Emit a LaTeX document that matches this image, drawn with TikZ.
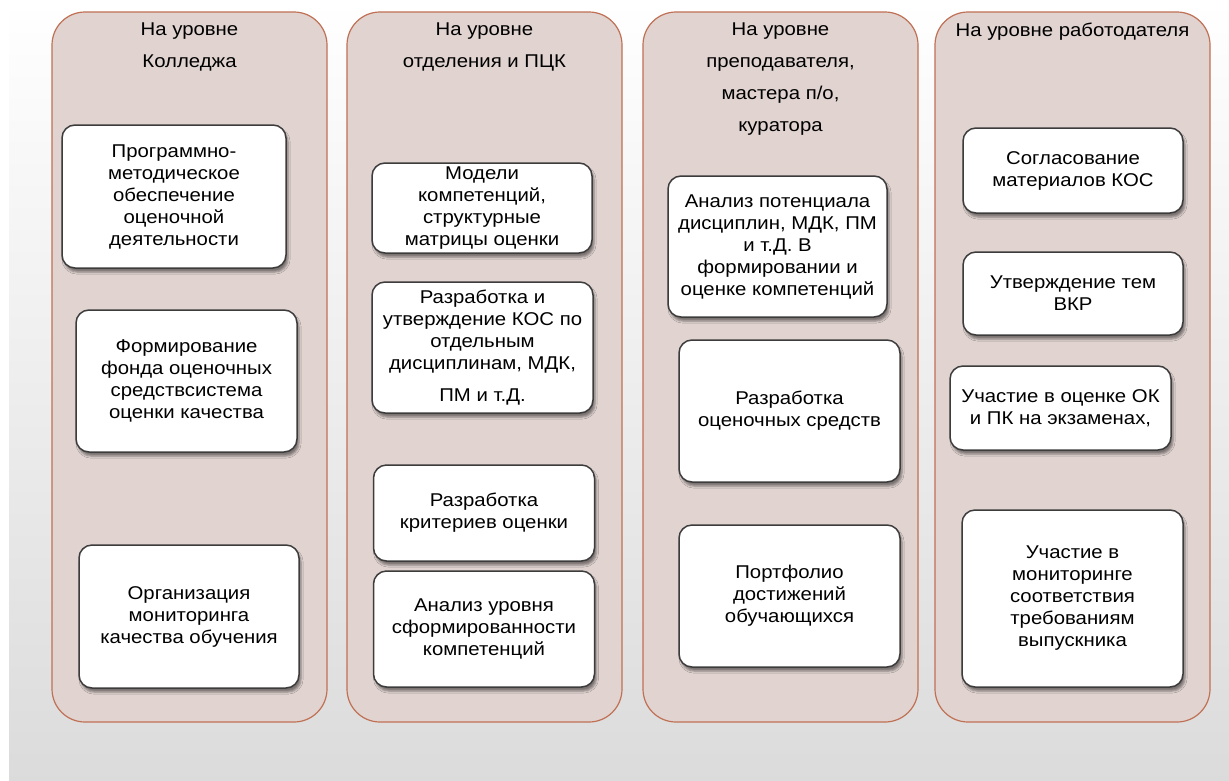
\documentclass[tikz,border=0pt]{standalone}
\usepackage{fontspec}
\setmainfont{Liberation Sans}[FakeStretch=1.1]
\usepackage{xcolor}
\usetikzlibrary{positioning}
\usetikzlibrary{shadows.blur}
\definecolor{colfill}{RGB}{224,211,208}
\definecolor{colline}{RGB}{192,112,84}
\definecolor{boxline}{RGB}{60,60,60}
\tikzset{
  levelcol/.style={draw=colline, line width=1.2pt, fill=colfill,
    rounded corners=33pt, minimum width=275pt, minimum height=710pt},
  head/.style={align=center, inner sep=0pt,
    font={\fontsize{18.5}{32}\selectfont}},
  taskbox/.style={draw=boxline, line width=1.5pt, fill=white,
    rounded corners=13pt, align=center, inner sep=0pt,
    font={\fontsize{18.5}{22}\selectfont},
    blur shadow={shadow xshift=2pt, shadow yshift=-4pt, shadow opacity=45}}
}

\begin{document}
\begin{tikzpicture}[x=1pt, y=-1pt]
\useasboundingbox (0,0) rectangle (1229,780);
% background
\fill[white] (0,0) rectangle (1229,780);
\shade[top color=white, bottom color=gray!28] (9,0) rectangle (1229,780);

% Columns
\node[levelcol] (college) at (189.5,367) {};
\node[levelcol] (dept) at (484.5,367) {};
\node[levelcol] (teacher) at (780.5,367) {};
\node[levelcol] (employer) at (1072.5,367) {};

\node[head, below=11pt of college.north] (collegehead) {На уровне\\Колледжа};
\node[head, below=11pt of dept.north] (depthead) {На уровне\\отделения и ПЦК};
\node[head, below=11pt of teacher.north] (teacherhead)
    {На уровне\\преподавателя,\\мастера п/о,\\куратора};
\node[head, below=11pt of employer.north] (employerhead) {На уровне работодателя};

% College level
\node[taskbox,
    minimum width=224pt,
    minimum height=143pt
    ] (progmet) at (174,196.5)
    {Программно-\\методическое\\обеспечение\\оценочной\\деятельности};
\node[taskbox,
    minimum width=221pt,
    minimum height=142pt
    ] (fund) at (186.5,381)
    {Формирование\\фонда оценочных\\средствсистема\\оценки качества};
\node[taskbox,
    minimum width=220pt,
    minimum height=143pt
    ] (monitor) at (189,616.5)
    {Организация\\мониторинга\\качества обучения};

% Department level
\node[taskbox,
    minimum width=220pt,
    minimum height=90pt
    ] (models) at (482,208)
    {Модели\\компетенций,\\структурные\\матрицы оценки};
\node[taskbox,
    minimum width=221pt,
    minimum height=131pt
    ] (kos) at (482.5,347.5)
    {Разработка и\\утверждение КОС по\\отдельным\\дисциплинам, МДК,\\[10pt]ПМ и т.Д.};
\node[taskbox,
    minimum width=221pt,
    minimum height=96pt
    ] (criteria) at (484,513)
    {Разработка\\критериев оценки};
\node[taskbox,
    minimum width=221pt,
    minimum height=116pt
    ] (analysis) at (484,629)
    {Анализ уровня\\сформированности\\компетенций};

% Teacher level
\node[taskbox,
    minimum width=219pt,
    minimum height=141pt
    ] (potential) at (777.5,246.5)
    {Анализ потенциала\\дисциплин, МДК, ПМ\\и т.Д. В\\формировании и\\оценке компетенций};
\node[taskbox,
    minimum width=221pt,
    minimum height=142pt
    ] (tools) at (789.5,411)
    {Разработка\\оценочных средств};
\node[taskbox,
    minimum width=221pt,
    minimum height=142pt
    ] (portfolio) at (789.5,596)
    {Портфолио\\достижений\\обучающихся};

% Employer level
\node[taskbox,
    minimum width=220pt,
    minimum height=85pt
    ] (agree) at (1073,170.5)
    {Согласование\\материалов КОС};
\node[taskbox,
    minimum width=220pt,
    minimum height=83pt
    ] (vkr) at (1073,293.5)
    {Утверждение тем\\ВКР};
\node[taskbox,
    minimum width=221pt,
    minimum height=84pt
    ] (exams) at (1060.5,408)
    {Участие в оценке ОК\\и ПК на экзаменах,};
\node[taskbox,
    minimum width=221pt,
    minimum height=177pt
    ] (graduates) at (1072.5,598.5)
    {Участие в\\мониторинге\\соответствия\\требованиям\\выпускника};
\end{tikzpicture}
\end{document}
